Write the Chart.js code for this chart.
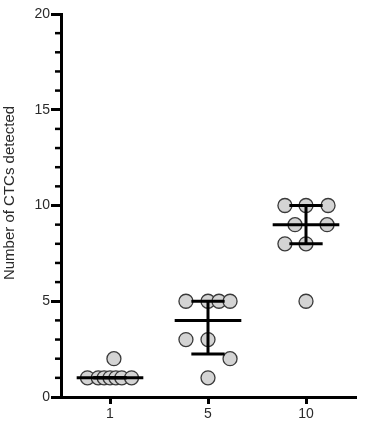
<!DOCTYPE html>
<html>
<head>
<meta charset="utf-8">
<script src="https://cdn.jsdelivr.net/npm/chart.js@4.4.1/dist/chart.umd.min.js"></script>
<style>
html,body{margin:0;padding:0;background:#fff;}
#wrap{width:368px;height:428px;}
</style>
</head>
<body>
<div id="wrap"><canvas id="c" width="368" height="428"></canvas></div>
<script>
// ---- data ----
const categories = ['1', '5', '10'];
const yAxisLabel = 'Number of CTCs detected';
const yTickLabels = ['0', '5', '10', '15', '20'];
// values for each group
const group1Values = [1, 1, 1, 1, 1, 1, 1, 2];
const group5Values = [5, 5, 5, 5, 3, 3, 2, 1];
const group10Values = [10, 10, 10, 9, 9, 8, 8, 5];
// horizontal scatter spread (category units) as laid out in the figure
const group1Spread = [-0.23, -0.12, -0.06, 0, 0.06, 0.12, 0.22, 0.04];
const group5Spread = [-0.225, 0, 0.112, 0.225, -0.225, 0, 0.225, 0];
const group10Spread = [-0.215, 0, 0.225, -0.112, 0.215, -0.215, 0, 0];

const groupValues = [group1Values, group5Values, group10Values];
const groupSpread = [group1Spread, group5Spread, group10Spread];

// Prism-style quantile: position p*(n+1)
function quantile(vals, p) {
  const s = vals.slice().sort((a, b) => a - b);
  const n = s.length;
  let pos = p * (n + 1);
  if (pos <= 1) return s[0];
  if (pos >= n) return s[n - 1];
  const lo = Math.floor(pos), f = pos - lo;
  return s[lo - 1] + f * (s[lo] - s[lo - 1]);
}

const MEDIAN_HALF = 0.34, CAP_HALF = 0.17;
const datasets = [];
const lineStyle = { type: 'line', showLine: true, pointRadius: 0, pointHoverRadius: 0,
  borderColor: '#000', borderWidth: 3, fill: false, order: 0, borderCapStyle: 'butt' };

groupValues.forEach((vals, gi) => {
  const gx = gi + 1;
  const med = quantile(vals, 0.5), q1 = quantile(vals, 0.25), q3 = quantile(vals, 0.75);
  datasets.push(Object.assign({}, lineStyle, { data: [{ x: gx - MEDIAN_HALF, y: med }, { x: gx + MEDIAN_HALF, y: med }] }));
  datasets.push(Object.assign({}, lineStyle, { data: [{ x: gx, y: q1 }, { x: gx, y: q3 }] }));
  datasets.push(Object.assign({}, lineStyle, { data: [{ x: gx - CAP_HALF, y: q1 }, { x: gx + CAP_HALF, y: q1 }] }));
  datasets.push(Object.assign({}, lineStyle, { data: [{ x: gx - CAP_HALF, y: q3 }, { x: gx + CAP_HALF, y: q3 }] }));
});

groupValues.forEach((vals, gi) => {
  datasets.push({
    type: 'scatter',
    data: vals.map((v, i) => ({ x: gi + 1 + groupSpread[gi][i], y: v })),
    pointRadius: 7,
    pointHoverRadius: 7,
    backgroundColor: '#d4d4d4',
    borderColor: '#3a3a3a',
    borderWidth: 1.3,
    order: 1
  });
});

const FONT = '"Liberation Sans", Arial, sans-serif';

const extras = {
  id: 'extras',
  afterDraw(chart) {
    const ctx = chart.ctx;
    const ys = chart.scales.y;
    const left = chart.chartArea.left;
    ctx.save();
    ctx.strokeStyle = '#000';
    ctx.lineWidth = 2.5;
    for (let v = 0; v <= 20; v++) {
      if (v % 5 === 0) continue;
      const py = ys.getPixelForValue(v);
      ctx.beginPath();
      ctx.moveTo(left - 6, py);
      ctx.lineTo(left, py);
      ctx.stroke();
    }
    // y axis title
    ctx.translate(10, 193);
    ctx.rotate(-Math.PI / 2);
    ctx.font = '15px ' + FONT;
    ctx.fillStyle = '#2a2a2a';
    ctx.textAlign = 'center';
    ctx.textBaseline = 'middle';
    ctx.fillText(yAxisLabel, 0, 0);
    ctx.restore();
  }
};

new Chart(document.getElementById('c'), {
  type: 'scatter',
  data: { datasets },
  options: {
    responsive: false,
    animation: false,
    events: [],
    layout: { padding: { top: 14, right: 13, left: 0, bottom: 0 } },
    plugins: { legend: { display: false }, tooltip: { enabled: false } },
    scales: {
      x: {
        type: 'linear',
        min: 0.5,
        max: 3.5,
        afterBuildTicks(scale) { scale.ticks = categories.map((c, i) => ({ value: i + 1 })); },
        afterFit(scale) { scale.height = 31; },
        ticks: {
          callback: (v) => categories[v - 1],
          color: '#2a2a2a',
          font: { size: 14, family: FONT },
          padding: 2,
          maxRotation: 0,
          autoSkip: false
        },
        grid: { drawOnChartArea: false, drawTicks: true, tickLength: 7, color: '#000', lineWidth: 3 },
        border: { display: true, color: '#000', width: 3 }
      },
      y: {
        min: 0,
        max: 20,
        afterBuildTicks(scale) { scale.ticks = yTickLabels.map(t => ({ value: Number(t) })); },
        afterFit(scale) { scale.width = 61; },
        ticks: {
          callback: (v) => yTickLabels[yTickLabels.indexOf(String(v))],
          color: '#2a2a2a',
          font: { size: 14, family: FONT },
          padding: 1
        },
        grid: { drawOnChartArea: false, drawTicks: true, tickLength: 10, color: '#000', lineWidth: 3 },
        border: { display: true, color: '#000', width: 3 }
      }
    }
  },
  plugins: [extras]
});
</script>
</body>
</html>
